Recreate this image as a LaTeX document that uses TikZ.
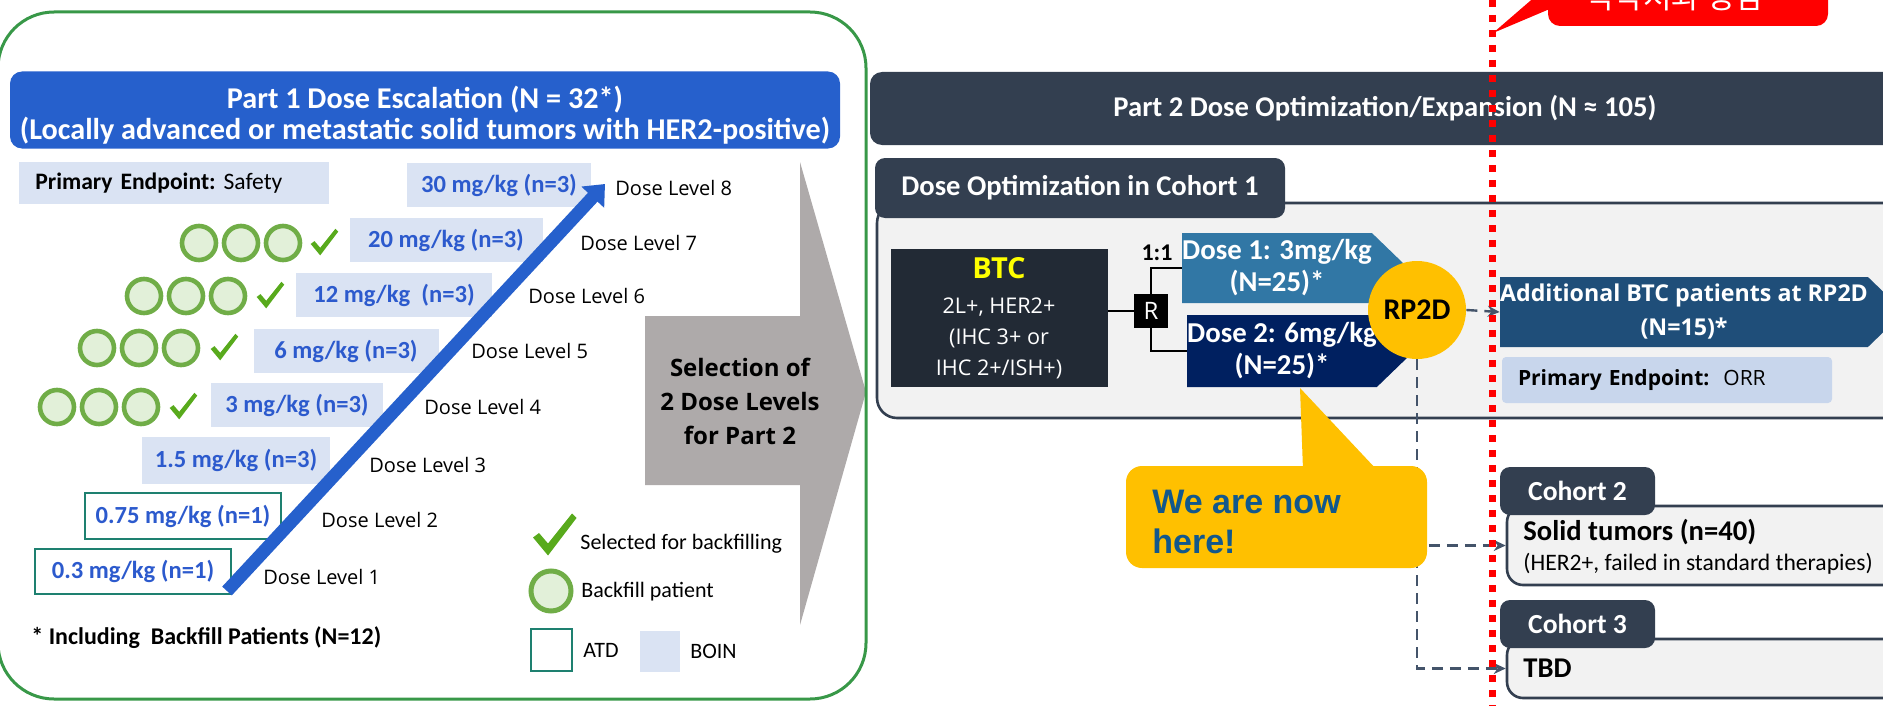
\documentclass[tikz,border=0pt]{standalone}
\usepackage{fontspec}
\setmainfont{Carlito}
\newfontfamily\segoe{Open Sans}
\newfontfamily\arialfont{Liberation Sans}
\newfontfamily\korfont{Noto Sans CJK KR}
\usetikzlibrary{calc, positioning, arrows.meta, shapes.symbols}

\definecolor{framegreen}{RGB}{56,152,72}
\definecolor{headblue}{RGB}{38,96,204}
\definecolor{boinfill}{RGB}{218,227,243}
\definecolor{dosetxt}{RGB}{44,90,205}
\definecolor{atdteal}{RGB}{30,128,112}
\definecolor{ringgreen}{RGB}{112,173,71}
\definecolor{ringfill}{RGB}{226,240,217}
\definecolor{tickgreen}{RGB}{88,170,28}
\definecolor{selgray}{RGB}{174,170,170}
\definecolor{slate}{RGB}{51,63,80}
\definecolor{btcdark}{RGB}{34,42,53}
\definecolor{btcyellow}{RGB}{255,255,0}
\definecolor{dosea}{RGB}{49,119,165}
\definecolor{doseb}{RGB}{0,32,96}
\definecolor{gold}{RGB}{255,192,0}
\definecolor{addblue}{RGB}{31,78,121}
\definecolor{orrfill}{RGB}{200,214,236}
\definecolor{panel}{RGB}{242,242,242}
\definecolor{heretxt}{RGB}{18,88,140}
\definecolor{dashgray}{RGB}{68,84,106}

% green tick: x, y, scale
\newcommand{\greentick}[3]{%
  \fill[tickgreen, shift={(#1,#2)}, scale=#3] (-14,1) -- (-10,-2) -- (-4,5) -- (12,-15) -- (15,-12) -- (-4,13) -- cycle;}

\begin{document}
\begin{tikzpicture}[x=0.5pt, y=-0.5pt,
  boin/.style={fill=boinfill, text=dosetxt, inner sep=0pt, minimum height=22pt, font=\fontsize{12.3}{14}\selectfont\bfseries},
  atd/.style={boin, fill=white, draw=atdteal, line width=1pt},
  lvl/.style={anchor=west, inner sep=0pt, font=\segoe\fontsize{10}{12}\selectfont},
  ring/.style={circle, draw=ringgreen, fill=ringfill, line width=2.3pt, minimum size=17pt, inner sep=0pt},
  legend/.style={anchor=west, inner sep=0pt, font=\fontsize{11}{13}\selectfont},
  slatebox/.style={fill=slate, text=white, rounded corners=5pt, inner sep=0pt, font=\fontsize{14.3}{16}\selectfont\bfseries},
  panelbox/.style={draw=slate, line width=1.3pt, fill=panel, rounded corners=10pt, inner sep=0pt},
  dosearrow/.style={signal, signal to=east, signal pointer angle=88, inner sep=0pt, text=white, align=center, font=\fontsize{14.4}{16}\selectfont\bfseries},
  dasharrow/.style={dashgray, line width=1.2pt, dash pattern=on 5.5pt off 3.5pt, -{Stealth[length=6pt,width=5.5pt]}},
]
\useasboundingbox (0,0) rectangle (1883,706);

% Part 1: selection arrow and frame
\fill[selgray] (645,316) -- (800,316) -- (800,162) -- (866,392) -- (800,625) -- (800,485) -- (645,485) -- cycle;
\node[font=\segoe\fontsize{12}{17}\selectfont\bfseries, align=center] (sel) at (740,401) {Selection of\\2 Dose Levels\\for Part 2};
\draw[framegreen, line width=1.5pt, rounded corners=28pt] (-2,12) rectangle (866,699);

% Part 1 header
\node[fill=headblue, rounded corners=6pt, minimum width=415pt, minimum height=38.5pt, inner sep=0pt] (p1head) at (425,110) {};
\node[text=white, inner sep=0pt, align=center, font=\fontsize{15.1}{15.5}\selectfont\bfseries] (p1title) at (425,115) {Part 1 Dose Escalation (N = 32*)\\(Locally advanced or metastatic solid tumors with HER2-positive)};
\node[fill=boinfill, anchor=west, minimum height=21pt, text width=139pt, inner xsep=8pt, inner ysep=0pt, align=left, font=\fontsize{11.8}{14}\selectfont] (ep1) at (19,183) {\textbf{Primary Endpoint:}\ Safety};

% dose levels
\node[boin, minimum width=92pt] (d8) at (499,185) {30 mg/kg (n=3)};
\node[boin, minimum width=96.5pt] (d7) at (446,240) {20 mg/kg (n=3)};
\node[boin, minimum width=98pt] (d6) at (394,295) {12 mg/kg\ \ (n=3)};
\node[boin, minimum width=92.5pt] (d5) at (346,351) {6 mg/kg (n=3)};
\node[boin, minimum width=86pt] (d4) at (297,405) {3 mg/kg (n=3)};
\node[boin, minimum width=94pt, minimum height=23.5pt] (d3) at (236,460) {1.5 mg/kg (n=3)};
\node[atd, minimum width=98pt, minimum height=23pt] (d2) at (183,516) {0.75 mg/kg (n=1)};
\node[atd, minimum width=98pt, minimum height=22.5pt] (d1) at (133,571) {0.3 mg/kg (n=1)};

\node[lvl] (l8) at (615,188) {Dose Level 8};
\node[lvl] (l7) at (580,243) {Dose Level 7};
\node[lvl] (l6) at (528,296) {Dose Level 6};
\node[lvl] (l5) at (471,351) {Dose Level 5};
\node[lvl] (l4) at (424,407) {Dose Level 4};
\node[lvl] (l3) at (369,465) {Dose Level 3};
\node[lvl] (l2) at (321,520) {Dose Level 2};
\node[lvl] (l1) at (263,577) {Dose Level 1};

% backfill patients
\foreach \y/\xa/\tx in {243/199/324, 296/144/270, 348/97/224, 407/57/183} {
  \foreach \i in {0,1,2}
    \node[ring] (bf\y-\i) at (\xa+42*\i,\y) {};
  \greentick{\tx}{\y}{0.95}
}

% escalation arrow
\coordinate (esc0) at (227,591);
\coordinate (esc1) at (605,184);
\draw[headblue, line width=6.5pt, -{Triangle[width=15pt,length=9pt]}] (esc0) -- (esc1);

% legend
\greentick{554}{536}{1.5}
\node[legend] (lgtick) at (580,544) {Selected for backfilling};
\node[ring, minimum size=20pt, line width=2.5pt] (lgring) at (551,591) {};
\node[legend] (lgbf) at (581,592) {Backfill patient};
\node[draw=atdteal, line width=1pt, minimum width=20.5pt, minimum height=21pt, inner sep=0pt] (lgatd) at (551,650) {};
\node[legend] (lgatdt) at (583,650) {ATD};
\node[fill=boinfill, minimum width=20pt, minimum height=20.5pt, inner sep=0pt] (lgboin) at (660,651) {};
\node[legend] (lgboint) at (690,651) {BOIN};
\node[legend, font=\fontsize{12}{14}\selectfont\bfseries] (incl) at (31,638) {* Including\ \ Backfill Patients (N=12)};

% Part 2 header
\node[slatebox, rounded corners=6pt, minimum width=515pt, minimum height=36.5pt] (p2head) at (1385,108.5) {Part 2 Dose Optimization/Expansion (N ≈ 105)};

% cohort 1
\node[panelbox, minimum width=514pt, minimum height=107.5pt] (coh1) at (1391,310.5) {};
\node[slatebox, minimum width=205pt, minimum height=30pt] (tab1) at (1080,188) {Dose Optimization in Cohort 1};
\node[fill=btcdark, text=white, minimum width=108.5pt, minimum height=69pt, inner sep=0pt, align=center, font=\segoe\fontsize{10.8}{15.5}\selectfont] (btc) at (999,318) {{\fontsize{14.5}{16}\selectfont\bfseries\color{btcyellow}BTC}\\[2pt]2L+, HER2+\\(IHC 3+ or\\IHC 2+/ISH+)};
\node[fill=black, text=white, minimum size=17pt, inner sep=0pt, font=\segoe\fontsize{12}{14}\selectfont] (rnd) at (1151,311) {R};
\node[font=\fontsize{12}{14}\selectfont\bfseries, inner sep=0pt] (ratio) at (1157,253) {1:1};
\node[dosearrow, fill=dosea, minimum width=106pt, minimum height=35pt] (dose1) at (1277,268) {Dose 1: 3mg/kg\\(N=25)*};
\node[dosearrow, fill=doseb, minimum width=112.5pt, minimum height=36pt] (dose2) at (1282,351) {Dose 2: 6mg/kg\\(N=25)*};
\draw[line width=1pt] (rnd.west) -- (rnd.west -| btc.east);
\draw[line width=1pt] (rnd.north) |- (dose1.west);
\draw[line width=1pt] (rnd.south) |- (dose2.west);
\node[circle, fill=gold, minimum size=49pt, inner sep=0pt, font=\fontsize{15}{17}\selectfont\bfseries] (rp2d) at (1417,310) {RP2D};

\node[dosearrow, fill=addblue, minimum width=199pt, minimum height=35pt, font=\segoe\fontsize{11.6}{17}\selectfont\bfseries] (addl) at (1684,312) {Additional BTC patients at RP2D\\(N=15)*};
\node[fill=orrfill, minimum height=23pt, text width=149pt, inner xsep=8pt, inner ysep=0pt, align=left, rounded corners=2pt, font=\segoe\fontsize{10.5}{13}\selectfont] (orr) at (1667,380) {\textbf{Primary Endpoint:}\ \ ORR};

% cohort 2 and 3
\node[panelbox, rounded corners=8pt, minimum width=196.5pt, minimum height=39.5pt] (c2box) at (1703.5,545.5) {};
\node[slatebox, minimum width=77.5pt, minimum height=24pt, font=\fontsize{13.8}{16}\selectfont\bfseries] (c2tab) at (1577.5,491) {Cohort 2};
\node[anchor=west, inner sep=0pt, font=\fontsize{14.3}{16}\selectfont\bfseries] (c2a) at (1523,532) {Solid tumors (n=40)};
\node[anchor=west, inner sep=0pt, font=\fontsize{11.8}{14}\selectfont] (c2b) at (1523,564) {(HER2+, failed in standard therapies)};
\node[panelbox, rounded corners=8pt, minimum width=196.5pt, minimum height=29.5pt] (c3box) at (1703.5,668.5) {};
\node[slatebox, minimum width=77.5pt, minimum height=24pt, font=\fontsize{13.8}{16}\selectfont\bfseries] (c3tab) at (1577.5,624) {Cohort 3};
\node[anchor=west, inner sep=0pt, font=\fontsize{14.3}{16}\selectfont\bfseries] (c3a) at (1523,668) {TBD};

% dashed connectors
\draw[dasharrow] (rp2d.east) -- (addl.west);
\draw[dasharrow] (rp2d.south) |- (c2box.west);
\draw[dasharrow] (rp2d.south) |- (c3box.west);

% callout
\fill[gold] (1300,388) -- (1303,470) -- (1377,470) -- cycle;
\node[fill=gold, rounded corners=8pt, minimum width=150.5pt, minimum height=51pt, inner sep=0pt] (here) at (1276.5,517) {};
\node[anchor=west, inner sep=0pt, align=left, text=heretxt, font=\arialfont\fontsize{17}{20}\selectfont\bfseries] (heretext) at (1152,522) {We are now\\here!};

% red marker
\draw[red, line width=3.5pt, dash pattern=on 3.5pt off 4pt] (1492,0) -- (1492,706);
\fill[red, rounded corners=6pt] (1548,-40) rectangle (1828,26);
\fill[red] (1493,33) -- (1552,8) -- (1552,-18) -- cycle;
\node[anchor=base, text=white, inner sep=0pt, font=\korfont\fontsize{15.5}{18}\selectfont] (mfds) at (1675,9) {식약처와 상담};
\end{tikzpicture}
\end{document}
